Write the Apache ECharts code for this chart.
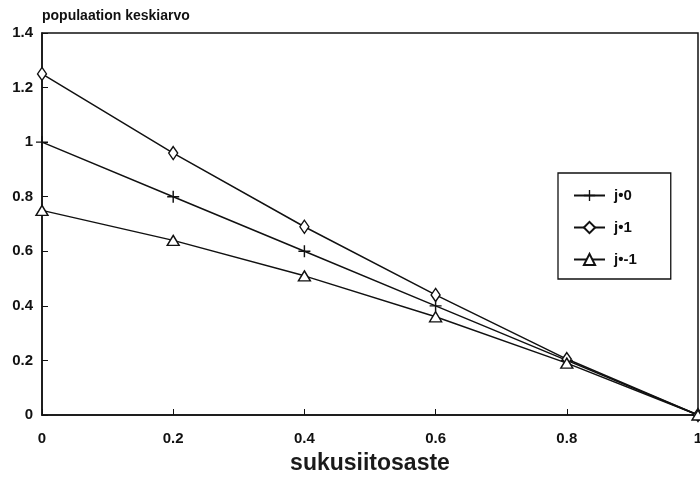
<!DOCTYPE html>
<html><head><meta charset="utf-8">
<script src="https://cdn.jsdelivr.net/npm/echarts@6/dist/echarts.min.js"></script>
<style>html,body{margin:0;padding:0;background:#fff}#c{width:700px;height:480px}</style>
</head><body><div id="c"></div>
<script>
const xValues = [0, 0.2, 0.4, 0.6, 0.8, 1];
const seriesNames = ['j=0', 'j=1', 'j=-1'];
const legendLabels = ['j•0', 'j•1', 'j•-1'];
const j0 = [1.0, 0.8, 0.6, 0.4, 0.2, 0.0];
const j1 = [1.25, 0.96, 0.69, 0.44, 0.205, 0.0];
const jm1 = [0.75, 0.64, 0.51, 0.36, 0.19, 0.0];
const yTitle = 'populaation keskiarvo';
const xTitle = 'sukusiitosaste';

const plusPath = 'path://M0,4.4h10v1.2h-10zM4.4,0h1.2v10h-1.2z';
const font = '"Liberation Sans", Arial, sans-serif';
const pairs = arr => xValues.map((x, i) => [x, arr[i]]);

const chart = echarts.init(document.getElementById('c'));
const mk = (name, data, symbol, size) => ({
  name, type: 'line', data: pairs(data), symbol, symbolSize: size,
  showAllSymbol: true,
  lineStyle: { color: '#111', width: 1.5 },
  itemStyle: symbol === plusPath
    ? { color: '#111', borderWidth: 0 }
    : { color: '#fff', borderColor: '#111', borderWidth: 1.4 },
  emphasis: { disabled: true }, animation: false
});
chart.setOption({
  animation: false,
  grid: { left: 42, right: 2, top: 33, bottom: 65, outerBoundsMode: 'none', containLabel: false,
          show: true, borderColor: '#111', borderWidth: 1.5 },
  title: [
    { text: yTitle, left: 37, top: 4, textStyle: { fontFamily: font, fontWeight: 'bold', fontSize: 14, color: '#111' } }
  ],
  legend: {
    orient: 'vertical', left: 558, top: 173,
    borderColor: '#111', borderWidth: 1.3,
    padding: [15, 34, 12, 15], itemGap: 17, itemWidth: 31, itemHeight: 14,
    data: seriesNames,
    formatter: n => legendLabels[seriesNames.indexOf(n)],
    textStyle: { fontFamily: font, fontWeight: 'bold', fontSize: 15, color: '#111', padding: [0, 0, 0, 4] }
  },
  xAxis: {
    type: 'value', min: 0, max: 1, interval: 0.2,
    name: xTitle, nameLocation: 'middle', nameGap: 37,
    nameTextStyle: { fontFamily: font, fontWeight: 'bold', fontSize: 23, color: '#1a1a1a' },
    axisLine: { show: true, lineStyle: { color: '#111', width: 1.5 } },
    axisTick: { show: true, inside: true, length: 6, lineStyle: { color: '#111' } },
    splitLine: { show: false },
    axisLabel: { margin: 16, fontFamily: font, fontWeight: 'bold', fontSize: 15, color: '#111' }
  },
  yAxis: {
    type: 'value', min: 0, max: 1.4, interval: 0.2,
    axisLine: { show: true, lineStyle: { color: '#111', width: 1.5 } },
    axisTick: { show: true, inside: true, length: 6, lineStyle: { color: '#111' } },
    splitLine: { show: false },
    axisLabel: { margin: 9, fontFamily: font, fontWeight: 'bold', fontSize: 15, color: '#111' }
  },
  series: [
    mk(seriesNames[0], j0, plusPath, 12),
    mk(seriesNames[1], j1, 'diamond', [9, 13]),
    mk(seriesNames[2], jm1, 'triangle', [12, 10])
  ]
});
</script></body></html>
